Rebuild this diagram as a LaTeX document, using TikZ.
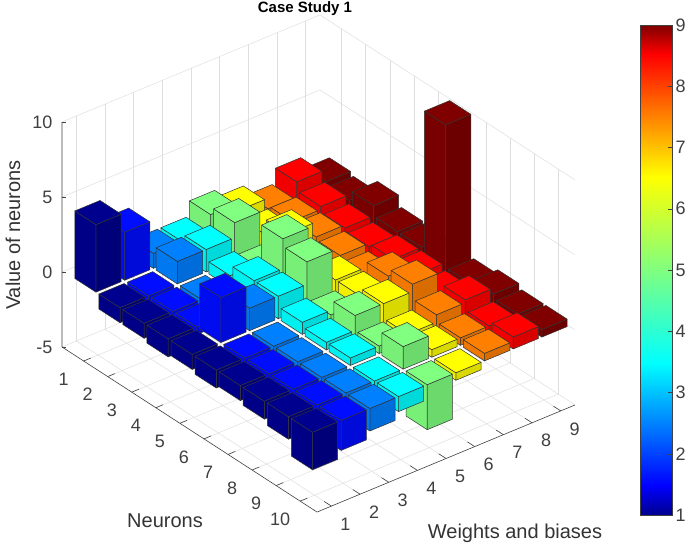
\documentclass[tikz,border=0pt]{standalone}
\usepackage{fontspec}
\setmainfont{Liberation Sans}
\usetikzlibrary{arrows}

% projection of (neuron, weight, value) onto the page
\newcommand{\pp}[3]{({62+(#1-0.1)*24.06+(#2-0.5)*28.67},{347+(#1-0.1)*15.57-(#2-0.5)*11.9-(#3+5)*15})}

\definecolor{jet1}{rgb}{0,0,0.56}
\definecolor{jet2}{rgb}{0,0.05,1}
\definecolor{jet3}{rgb}{0,0.5,1}
\definecolor{jet4}{rgb}{0,1,1}
\definecolor{jet5}{rgb}{0.5,1,0.5}
\definecolor{jet6}{rgb}{1,1,0}
\definecolor{jet7}{rgb}{1,0.5,0}
\definecolor{jet8}{rgb}{1,0,0}
\definecolor{jet9}{rgb}{0.5,0,0}

\pgfdeclareverticalshading{jetbar}{100bp}{rgb(0bp)=(0,0,0.56); rgb(25bp)=(0,0,0.56); rgb(28bp)=(0,0,1);
  rgb(40.5bp)=(0,1,1); rgb(50bp)=(0.5,1,0.5); rgb(59.5bp)=(1,1,0); rgb(72bp)=(1,0,0); rgb(75bp)=(0.5,0,0); rgb(100bp)=(0.5,0,0)}

\begin{document}
\begin{tikzpicture}[x=1pt,y=-1pt,
  gridline/.style={draw=black!13,line width=0.5pt},
  axisline/.style={draw=black!75,line width=0.6pt},
  face/.style={draw=black!80,line width=0.5pt,line join=round},
  ticklabel/.style={font=\fontsize{18}{18}\selectfont,text=black!75},
  axislabel/.style={font=\fontsize{20}{20}\selectfont,text=black!80}]
  \useasboundingbox (0,0) rectangle (685,549);

  % back walls and floor
  \foreach \z in {-5,0,5,10} {
    \draw[gridline] \pp{0.1}{0.5}{\z} -- \pp{0.1}{9.5}{\z} -- \pp{10.7}{9.5}{\z};
  }
  \foreach \w in {1,...,9} {
    \draw[gridline] \pp{0.1}{\w}{-5} -- \pp{0.1}{\w}{10};
    \draw[gridline] \pp{0.1}{\w}{-5} -- \pp{10.7}{\w}{-5};
  }
  \foreach \n in {1,...,10} {
    \draw[gridline] \pp{\n}{9.5}{-5} -- \pp{\n}{9.5}{10};
    \draw[gridline] \pp{\n}{0.5}{-5} -- \pp{\n}{9.5}{-5};
  }

  % axes with ticks
  \draw[axisline] \pp{0.1}{0.5}{10} -- \pp{0.1}{0.5}{-5} -- \pp{10.7}{0.5}{-5} -- \pp{10.7}{9.5}{-5};
  \foreach \z/\zl in {-5/-5,0/0,5/5,10/10} {
    \draw[axisline] \pp{0.1}{0.5}{\z} -- ++(4,0);
    \node[ticklabel,anchor=east,xshift=-6pt] (zt\z) at \pp{0.1}{0.5}{\z} {\zl};
  }
  \foreach \n in {1,...,10} {
    \draw[axisline] \pp{\n}{0.5}{-5} -- \pp{\n}{0.75}{-5};
    \node[ticklabel,xshift=-20pt,yshift=-18pt] (nt\n) at \pp{\n}{0.5}{-5} {\n};
  }
  \foreach \w in {1,...,9} {
    \draw[axisline] \pp{10.7}{\w}{-5} -- \pp{10.4}{\w}{-5};
    \node[ticklabel,xshift=14pt,yshift=-18pt] (wt\w) at \pp{10.7}{\w}{-5} {\w};
  }

  % bars, back to front
  \foreach \n/\vals in {
      1/{4.5,3.2,1.0,1.0,2.0,1.5,0.8,1.8,1.0},
      2/{-1.0,-0.8,1.5,1.5,2.5,1.0,1.0,1.2,0.8},
      3/{-1.0,-1.0,-0.5,0.8,0.5,2.0,1.0,0.8,1.5},
      4/{-1.2,-0.5,0.5,1.5,3.5,0.5,0.8,0.6,0.8},
      5/{-1.0,3.0,1.5,1.5,3.0,1.0,0.5,0.8,0.8},
      6/{-1.2,-1.0,-0.5,0.8,0.5,1.0,1.5,0.8,10.0},
      7/{-1.0,-1.0,-0.5,0.5,1.5,1.5,2.0,0.5,0.5},
      8/{-1.2,-0.8,-1.0,0.5,0.5,0.5,1.0,1.2,0.8},
      9/{-1.5,-1.0,-0.8,-1.0,1.5,0.5,0.5,0.5,0.5},
      10/{-2.5,-2.0,-1.5,-1.0,-3.0,-0.5,0.5,0.8,0.5}} {
    \foreach \w in {9,...,1} {
      \pgfmathsetmacro\h{{\vals}[\w-1]}
      \pgfmathsetmacro\lo{min(0,\h)}
      \pgfmathsetmacro\hi{max(0,\h)}
      \pgfmathsetmacro\na{\n-0.44}
      \pgfmathsetmacro\nb{\n+0.44}
      \pgfmathsetmacro\wa{\w-0.44}
      \pgfmathsetmacro\wb{\w+0.44}
      \filldraw[face,fill=jet\w!85!black] \pp{\nb}{\wa}{\lo} -- \pp{\nb}{\wb}{\lo} -- \pp{\nb}{\wb}{\hi} -- \pp{\nb}{\wa}{\hi} -- cycle;
      \filldraw[face,fill=jet\w!94!black] \pp{\na}{\wa}{\lo} -- \pp{\nb}{\wa}{\lo} -- \pp{\nb}{\wa}{\hi} -- \pp{\na}{\wa}{\hi} -- cycle;
      \filldraw[face,fill=jet\w] \pp{\na}{\wa}{\hi} -- \pp{\nb}{\wa}{\hi} -- \pp{\nb}{\wb}{\hi} -- \pp{\na}{\wb}{\hi} -- cycle;
    }
  }

  % labels
  \node[font=\bfseries\fontsize{15}{15}\selectfont] (title) at (305,9) {Case Study 1};
  \node[axislabel,rotate=90] (zlabel) at (13,235) {Value of neurons};
  \node[axislabel] (nlabel) at (165,521) {Neurons};
  \node[axislabel] (wlabel) at (515,533) {Weights and biases};

  % colour bar
  \shade[shading=jetbar] (640,515) rectangle (672,25);
  \draw[black!75,line width=0.6pt] (640,515) rectangle (672,25);
  \foreach \v in {1,...,9} {
    \draw[black!75] ({672},{515-(\v-1)*61.25}) -- ++(-4,0);
    \node[ticklabel,anchor=west] (cb\v) at ({672},{515-(\v-1)*61.25}) {\v};
  }
\end{tikzpicture}
\end{document}
